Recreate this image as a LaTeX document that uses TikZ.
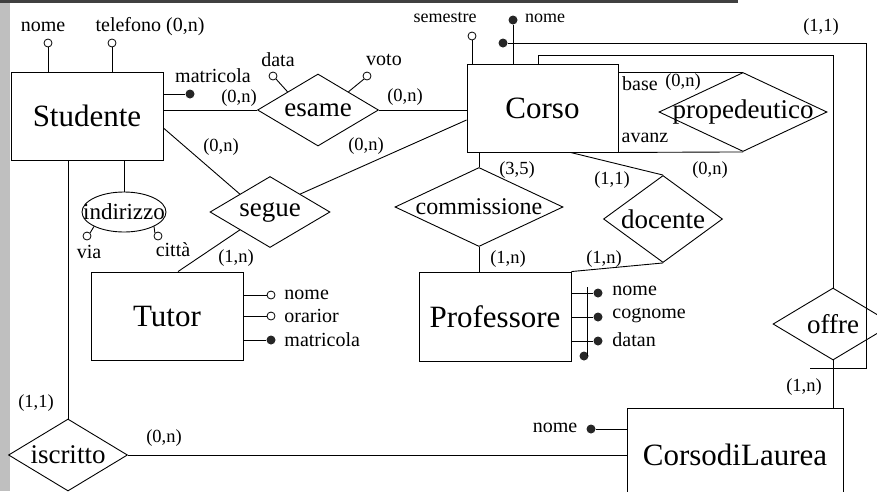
\documentclass[tikz,border=0pt]{standalone}
\usepackage{fontspec}
\setmainfont{Liberation Serif}
\usetikzlibrary{shapes.geometric}
\newcommand{\zw}[1]{\makebox[0pt]{#1}}
\begin{document}
\begin{tikzpicture}[x=1pt,y=-1pt,line width=0.9pt,
    entity/.style={draw,rectangle,inner sep=0pt,font=\fontsize{31}{31}\selectfont},
    rel/.style={draw,diamond,inner sep=0pt,font=\fontsize{27}{27}\selectfont},
    card/.style={inner sep=0pt,font=\fontsize{18.5}{18.5}\selectfont},
    lab/.style={inner sep=0pt,font=\fontsize{20}{20}\selectfont},
    opn/.style={circle,draw,fill=white,inner sep=0pt,minimum size=8pt,line width=0.8pt},
    idkey/.style={circle,fill=black!85,inner sep=0pt,minimum size=9pt}]
      \useasboundingbox (0,0) rectangle (877,491);
      \clip (0,0) rectangle (877,491);
      \fill[gray!50] (0,3) rectangle (10,491);
      \draw[line width=3pt,black!75] (0,1) -- (738,1);
      % entities
      \node[entity,minimum width=152,minimum height=88] (studente) at (87,116) {Studente};
      \node[entity,minimum width=151,minimum height=88] (corso) at (542.5,108) {Corso};
      \node[entity,minimum width=152,minimum height=88] (tutor) at (167,316) {Tutor};
      \node[entity,minimum width=152,minimum height=89] (professore) at (495,316.5) {Professore};
      \node[entity,minimum width=216,minimum height=94] (laurea) at (735,455) {CorsodiLaurea};
      % relationships
      \node[rel,minimum width=121,minimum height=72] (esame) at (318,110) {\zw{esame}};
      \node[rel,minimum width=168,minimum height=79] (propedeutico) at (743,112) {\zw{propedeutico}};
      \node[rel,minimum width=120,minimum height=71] (segue) at (270,212) {\zw{segue}};
      \node[rel,minimum width=168,minimum height=79,font=\fontsize{24}{24}\selectfont] (commissione) at (479,207) {\zw{commissione}};
      \node[rel,minimum width=119,minimum height=87] (docente) at (663,219) {\zw{docente}};
      \node[rel,minimum width=120,minimum height=72] (offre) at (833,324) {\zw{offre}};
      \node[rel,minimum width=119,minimum height=72] (iscritto) at (68,455) {\zw{iscritto}};
      \node[draw,ellipse,inner sep=0pt,minimum width=84,minimum height=40,font=\fontsize{23}{23}\selectfont] (indirizzo) at (124,212) {\zw{indirizzo}};
      % attributes
      \node[opn] (osnome) at (48,43) {};
      \node[opn] (otel) at (112,43) {};
      \node[idkey] (ksmat) at (190,94) {};
      \node[opn] (odata) at (273,76) {};
      \node[opn] (ovoto) at (367,76) {};
      \node[opn] (osem) at (472,36) {};
      \node[idkey] (kcnome) at (513,20) {};
      \node[idkey] (kext) at (503,43) {};
      \node[opn] (ovia) at (87,236) {};
      \node[opn] (ocitta) at (158,236) {};
      \node[opn] (otnome) at (271,295) {};
      \node[opn] (otorario) at (271,316) {};
      \node[idkey] (ktmat) at (271,340) {};
      \node[idkey] (kpnome) at (598,293) {};
      \node[idkey] (kpcogn) at (598,317) {};
      \node[idkey] (kpdata) at (598,341) {};
      \node[idkey] (kpid) at (584,356) {};
      \node[idkey] (klnome) at (591,429) {};
      \coordinate (cpid) at (587,287);
      \coordinate (couter) at (866,368);
      \coordinate (cend) at (810,368);
      % texts
      \node[lab] (tsnome) at (43,27) {nome};
      \node[lab] (ttel) at (150,27) {telefono (0,n)};
      \node[lab] (tsmat) at (213,76) {matricola};
      \node[lab] (tdata) at (278,60) {data};
      \node[lab] (tvoto) at (384,60) {voto};
      \node[lab,font=\fontsize{18}{18}\selectfont] (tsem) at (445,18) {semestre};
      \node[lab,font=\fontsize{18}{18}\selectfont] (tcnome) at (545,18) {nome};
      \node[lab] (tvia) at (89,252) {via};
      \node[lab] (tcitta) at (173,250) {città};
      \node[lab,anchor=west] (ttnome) at (284,295) {nome};
      \node[lab,anchor=west] (ttorario) at (284,316) {orarior};
      \node[lab,anchor=west] (ttmat) at (284,340) {matricola};
      \node[lab,anchor=west] (tpnome) at (612,291) {nome};
      \node[lab,anchor=west] (tpcogn) at (612,316) {cognome};
      \node[lab,anchor=west] (tpdata) at (612,340) {datan};
      \node[lab] (tlnome) at (555,428) {nome};
      \node[lab] (tbase) at (640,84) {base};
      \node[lab] (tavanz) at (645,138) {avanz};
      % cardinalities
      \node[card] (c1) at (239,98) {(0,n)};
      \node[card] (c2) at (405,97) {(0,n)};
      \node[card] (c3) at (221,147) {(0,n)};
      \node[card] (c4) at (366,146) {(0,n)};
      \node[card] (c5) at (236,258) {(1,n)};
      \node[card] (c6) at (517,170) {(3,5)};
      \node[card] (c7) at (508,259) {(1,n)};
      \node[card] (c8) at (604,259) {(1,n)};
      \node[card] (c9) at (612,180) {(1,1)};
      \node[card] (c10) at (710,170) {(0,n)};
      \node[card] (c11) at (683,82) {(0,n)};
      \node[card] (c12) at (36,403) {(1,1)};
      \node[card] (c13) at (164,438) {(0,n)};
      \node[card] (c14) at (821,27) {(1,1)};
      \node[card] (c15) at (804,387) {(1,n)};
      \begin{scope}[-]
        \draw (studente.east |- esame.west) to (esame.west);
        \draw (esame.east) to (esame.east -| corso.west);
        \draw ([yshift=-12pt]studente.east) to (segue.north west);
        \draw ([yshift=-12pt]corso.west) to (segue.north east);
        \draw (segue.south west) to ([xshift=11pt]tutor.north);
        \draw (corso.east |- propedeutico.north) to (propedeutico.north);
        \draw (corso.south east) to (propedeutico.south);
        \draw (commissione.north) to (commissione.north |- corso.south);
        \draw (commissione.south) to (commissione.south |- professore.north);
        \draw ([xshift=28pt]corso.south) to (docente.north);
        \draw (docente.south) to (professore.north east);
        \draw (indirizzo.north) to (indirizzo.north |- studente.south);
        \draw (iscritto.north) to (iscritto.north |- studente.south);
        \draw (iscritto.east) to (iscritto.east -| laurea.west);
        \draw (offre.south) to (offre.south |- laurea.north);
        \draw ([xshift=-4pt]corso.north) -- ++(0,-8) -| (offre.north);
        \draw (kext) -| (couter) -- (cend);
        \draw (osnome.south) to (osnome.south |- studente.north);
        \draw (otel.south) to (otel.south |- studente.north);
        \draw (studente.east |- ksmat) to (ksmat);
        \draw (odata.south east) to (esame.north west);
        \draw (ovoto.south west) to (esame.north east);
        \draw (osem.south) to (osem.south |- corso.north);
        \draw (kcnome) to (kcnome |- corso.north);
        \draw (ovia.north east) to (indirizzo.south west);
        \draw (ocitta.north west) to (indirizzo.south east);
        \draw (tutor.east |- otnome) to (otnome.west);
        \draw (tutor.east |- otorario) to (otorario.west);
        \draw (tutor.east |- ktmat) to (ktmat);
        \draw (professore.east |- kpnome) to (kpnome);
        \draw (professore.east |- kpcogn) to (kpcogn);
        \draw (professore.east |- kpdata) to (kpdata);
        \draw (cpid) to (cpid |- kpid);
        \draw (klnome) to (klnome -| laurea.west);
      \end{scope}
    \end{tikzpicture}
\end{document}
